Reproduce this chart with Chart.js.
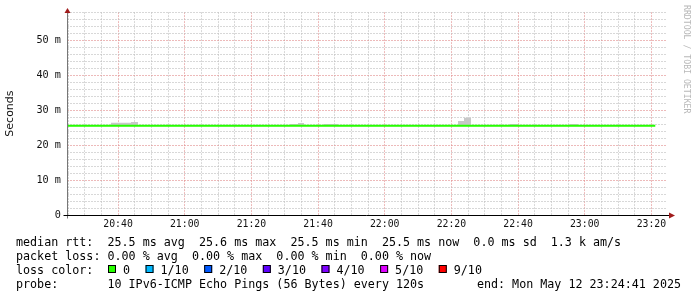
<!DOCTYPE html>
<html>
<head>
<meta charset="utf-8">
<script src="https://cdn.jsdelivr.net/npm/chart.js@4.4.1/dist/chart.umd.min.js"></script>
<style>
  html, body { margin: 0; padding: 0; background: #fff; }
</style>
</head>
<body>
<canvas id="chart" width="697" height="297"></canvas>
<script>
// graph window
const startTime = '20:24:41';
const endTime = '23:24:41';
const timeTicks = ['20:40', '21:00', '21:20', '21:40', '22:00', '22:20', '22:40', '23:00', '23:20'];
const yTicks = [0, 10, 20, 30, 40, 50];
const yTickLabels = ['0', '10 m', '20 m', '30 m', '40 m', '50 m'];

// median rtt in ms (no loss the whole time -> green)
const medianTimes = ['20:24:41', '20:50', '21:15', '21:40', '22:05', '22:30', '22:55', '23:21:10'];
const medianValues = [25.5, 25.5, 25.5, 25.5, 25.5, 25.5, 25.5, 25.5];

// top of the grey smoke in ms, each value holds until the next time
const smokeTimes = ['20:24:41', '20:37:53', '20:43:53', '20:45:59', '21:31:35', '21:33:59', '21:35:47',
                    '21:41:47', '21:45:59', '22:21:59', '22:23:47', '22:25:53', '22:37:35', '22:39:59',
                    '22:55:35', '22:57:59', '23:21:10'];
const smokeTop = [25.5, 26.4, 26.6, 25.5, 26.0, 26.3, 25.5,
                  26.0, 25.5, 26.9, 27.8, 25.5, 26.0, 25.5,
                  26.0, 25.5, 25.5];

const lossLabels = ['0', '1/10', '2/10', '3/10', '4/10', '5/10', '9/10'];
const lossColors = ['#26ff00', '#00b8ff', '#0059ff', '#5e00ff', '#7e00ff', '#dd00ff', '#ff0000'];

const rttLine = 'median rtt:  25.5 ms avg  25.6 ms max  25.5 ms min  25.5 ms now  0.0 ms sd  1.3 k am/s';
const lossLine = 'packet loss: 0.00 % avg  0.00 % max  0.00 % min  0.00 % now';
const lossColorTitle = 'loss color:';
const probeLine = 'probe:       10 IPv6-ICMP Echo Pings (56 Bytes) every 120s';
const endLine = 'end: Mon May 12 23:24:41 2025';
const watermark = 'RRDTOOL / TOBI OETIKER';

function toMin(t) {
    const p = t.split(':').map(Number);
    return p[0] * 60 + p[1] + (p[2] || 0) / 60;
}

const xMin = toMin(startTime);
const xMax = toMin(endTime);

// minor grid every 5 minutes
const gridTimes = [];
for (let m = Math.ceil(xMin / 5) * 5; m <= xMax; m += 5) gridTimes.push(m);
const tickLabelByMin = {};
timeTicks.forEach(t => { tickLabelByMin[Math.round(toMin(t))] = t; });

const mono = '"DejaVu Sans Mono", monospace';
const minorGrid = 'rgba(190,190,190,0.6)';
const majorGrid = 'rgba(225,140,140,0.6)';

const rrdDecor = {
    id: 'rrdDecor',
    afterDraw(chart) {
        const ctx = chart.ctx;
        const a = chart.chartArea;
        const x0 = Math.round(a.left) + 0.5;
        const y0 = Math.round(a.bottom) + 0.5;
        ctx.save();

        // axes
        ctx.lineWidth = 1;
        ctx.strokeStyle = '#777';
        ctx.beginPath();
        ctx.moveTo(x0, y0 + 3);
        ctx.lineTo(x0, a.top - 2);
        ctx.stroke();
        ctx.strokeStyle = '#000';
        ctx.beginPath();
        ctx.moveTo(x0 - 4, y0);
        ctx.lineTo(a.right + 3, y0);
        ctx.stroke();

        // arrows
        ctx.fillStyle = '#a01c1c';
        ctx.beginPath();
        ctx.moveTo(x0 - 3, a.top + 1);
        ctx.lineTo(x0 + 3, a.top + 1);
        ctx.lineTo(x0, a.top - 4);
        ctx.closePath();
        ctx.fill();
        ctx.beginPath();
        ctx.moveTo(a.right + 2, y0 - 3);
        ctx.lineTo(a.right + 2, y0 + 3);
        ctx.lineTo(a.right + 8, y0);
        ctx.closePath();
        ctx.fill();

        // legend text
        ctx.fillStyle = '#000';
        ctx.font = '11.7px ' + mono;
        ctx.textBaseline = 'alphabetic';
        ctx.textAlign = 'left';
        ctx.fillText(rttLine, 16, 245.5);
        ctx.fillText(lossLine, 16, 259.5);
        ctx.fillText(lossColorTitle, 16, 273.5);
        ctx.fillText(probeLine, 16, 287.5);
        ctx.textAlign = 'right';
        ctx.fillText(endLine, 681, 287.5);

        // loss colour swatches
        ctx.textAlign = 'left';
        let x = 108;
        lossLabels.forEach((lab, i) => {
            ctx.fillStyle = lossColors[i];
            ctx.fillRect(x, 265, 8, 8);
            ctx.strokeStyle = '#000';
            ctx.strokeRect(x + 0.5, 265.5, 7, 7);
            ctx.fillStyle = '#000';
            ctx.fillText(lab, x + 15, 273.5);
            x += 15 + ctx.measureText(lab).width + 15.5;
        });

        // vertical watermark
        ctx.translate(686, 5);
        ctx.rotate(Math.PI / 2);
        ctx.font = '8.2px ' + mono;
        ctx.fillStyle = '#b8b8b8';
        ctx.textBaseline = 'middle';
        ctx.fillText(watermark, 0, 0);
        ctx.restore();
    }
};

const ctx = document.getElementById('chart').getContext('2d');

new Chart(ctx, {
    type: 'line',
    data: {
        datasets: [{
            label: 'median rtt',
            data: medianTimes.map((t, i) => ({x: toMin(t), y: medianValues[i]})),
            borderColor: lossColors[0],
            borderWidth: 2,
            pointRadius: 0,
            fill: false,
            order: 1
        }, {
            label: 'smoke',
            data: smokeTimes.map((t, i) => ({x: toMin(t), y: smokeTop[i]})),
            stepped: true,
            borderWidth: 0,
            borderColor: 'rgba(0,0,0,0)',
            backgroundColor: '#c8c8c8',
            pointRadius: 0,
            fill: {value: 25.4},
            order: 2
        }]
    },
    options: {
        responsive: false,
        animation: false,
        events: [],
        layout: {padding: {top: 12, right: 30, left: 0, bottom: 0}},
        plugins: {
            legend: {display: false},
            title: {display: false},
            tooltip: {enabled: false}
        },
        scales: {
            x: {
                type: 'linear',
                min: xMin,
                max: xMax,
                afterBuildTicks: scale => { scale.ticks = gridTimes.map(v => ({value: v})); },
                afterFit: scale => { scale.height = 82; },
                ticks: {
                    autoSkip: false,
                    maxRotation: 0,
                    padding: 4,
                    color: '#111',
                    font: {family: mono, size: 9.8},
                    callback: v => tickLabelByMin[Math.round(v)] || ''
                },
                grid: {
                    drawTicks: false,
                    lineWidth: 1,
                    color: c => (Math.round(c.tick.value) % 20 === 0) ? majorGrid : minorGrid
                },
                border: {display: false, dash: [2, 1]}
            },
            y: {
                min: 0,
                max: 58,
                ticks: {
                    stepSize: 2,
                    autoSkip: false,
                    padding: 6,
                    color: '#111',
                    font: {family: mono, size: 10.2},
                    callback: v => {
                        const i = yTicks.indexOf(v);
                        return i >= 0 ? yTickLabels[i] : '';
                    }
                },
                afterFit: scale => { scale.width = 67; },
                grid: {
                    drawTicks: false,
                    lineWidth: 1,
                    color: c => (c.tick.value % 10 === 0) ? majorGrid : minorGrid
                },
                border: {display: false, dash: [2, 1]},
                title: {
                    display: true,
                    text: 'Seconds',
                    color: '#111',
                    padding: {top: 4, bottom: 0},
                    font: {family: '"DejaVu Sans", sans-serif', size: 11, weight: 'normal'}
                }
            }
        }
    },
    plugins: [rrdDecor]
});
</script>
</body>
</html>
